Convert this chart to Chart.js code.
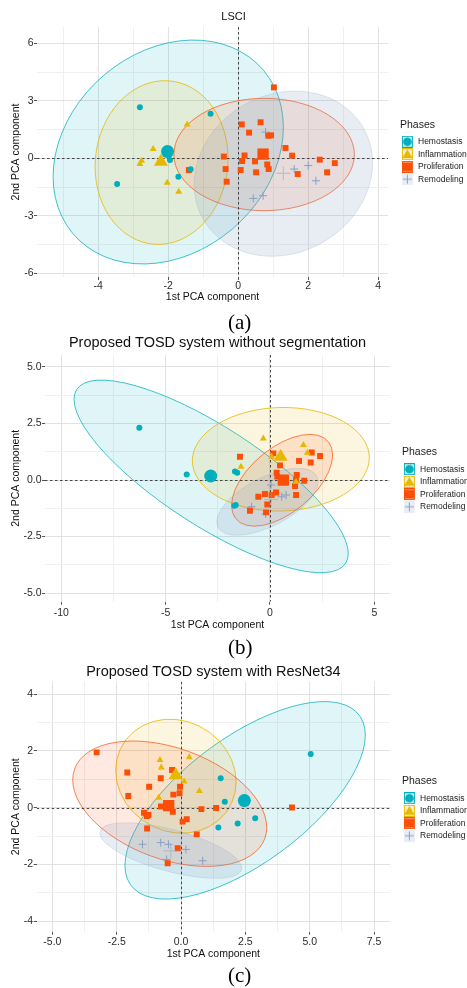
<!DOCTYPE html>
<html>
<head>
<meta charset="utf-8">
<script src="https://cdn.jsdelivr.net/npm/chart.js@4"></script>
<style>
  html, body { margin: 0; padding: 0; background: #fff; overflow: hidden; }
  body { width: 467px; height: 988px; position: relative; }
  .panel { position: absolute; left: 0; }
  .cap { position: absolute; left: 228px; font-family: "Liberation Serif", "Times New Roman", serif; font-size: 21px; line-height: 21px; color: #000; }
</style>
</head>
<body>
<div class="panel" style="top:0px"><canvas id="chartA" width="467" height="305"></canvas></div>
<div class="panel" style="top:328px"><canvas id="chartB" width="469" height="304"></canvas></div>
<div class="panel" style="top:658px"><canvas id="chartC" width="469" height="302"></canvas></div>
<div class="cap" style="top:312px">(a)</div>
<div class="cap" style="top:637px">(b)</div>
<div class="cap" style="top:965px">(c)</div>
<script>
const phases = ['Hemostasis', 'Inflammation', 'Proliferation', 'Remodeling'];

// (a) LSCI
const lsciHemostasis = [[-2.81, 2.66], [-0.79, 2.33], [-1.95, -0.09], [-1.36, -0.57], [-1.71, -0.96], [-3.46, -1.34]];
const lsciInflammation = [[-1.46, 1.77], [-2.43, 0.49], [-2.76, -0.12], [-2.81, -0.30], [-2.03, -1.27], [-1.70, -1.74]];
const lsciProliferation = [[1.02, 3.70], [0.10, 1.77], [0.64, 1.88], [0.31, 1.34], [0.86, 1.18], [0.94, 1.20], [1.35, 0.54],
  [1.54, 0.14], [-0.41, 0.09], [0.18, 0.15], [0.11, -0.14], [0.48, -0.16], [0.83, -0.32], [0.87, -0.56], [2.33, -0.07],
  [2.76, -0.25], [2.54, -0.73], [1.70, -0.82], [0.51, -0.73], [0.07, -0.61], [-0.36, -0.56], [-0.33, -1.22], [-1.41, -0.61]];
const lsciRemodeling = [[0.78, 1.37], [1.60, -0.56], [2.00, -0.38], [2.22, -1.17], [0.43, -2.09], [0.71, -1.95]];
const lsciMeans = [[-2.02, 0.35], [-2.21, -0.18], [0.71, 0.22], [1.29, -0.78]];
// ellipse = centre x, centre y, half width, half height, correlation
const lsciEllipses = [[-2.00, 0.33, 3.29, 5.84, 0.22], [-2.19, -0.22, 1.90, 4.27, 0.05], [0.74, 0.20, 2.58, 2.93, 0.0], [1.29, -0.80, 2.55, 4.31, 0.13]];
const lsciXTicks = [-4, -2, 0, 2, 4];
const lsciXLabels = ['-4', '-2', '0', '2', '4'];
const lsciXMinor = [-5, -3, -1, 1, 3];
const lsciYTicks = [-6, -3, 0, 3, 6];
const lsciYLabels = ['-6', '-3', '0', '3', '6'];
const lsciYMinor = [-4.5, -1.5, 1.5, 4.5];

// (b) without segmentation
const noSegHemostasis = [[-6.26, 2.31], [-3.99, 0.25], [-1.68, 0.38], [-1.57, 0.32], [-1.71, -1.14], [-1.64, -1.10]];
const noSegInflammation = [[-0.32, 1.84], [1.60, 1.55], [1.79, 1.21], [0.08, 1.03], [-1.39, 0.59], [1.25, -0.07]];
const noSegProliferation = [[-1.44, 1.03], [0.16, 1.18], [2.00, 1.22], [2.40, 1.06], [1.39, 0.84], [1.95, 0.78], [0.48, 0.65],
  [0.32, 0.32], [0.35, 0.15], [1.28, 0.22], [1.25, 0.00], [1.64, -0.03], [1.20, -0.27], [1.25, -0.66], [0.29, -0.55],
  [0.08, -0.66], [-0.24, -0.62], [-0.56, -0.74], [-0.13, -1.08], [-0.96, -1.36], [-0.19, -1.43]];
const noSegRemodeling = [[0.05, -0.22], [0.56, -0.74], [0.77, -0.66], [-0.88, -1.18], [-0.21, -1.50]];
const noSegMeans = [[-2.84, 0.18], [0.51, 1.03], [0.64, 0.00], [0.06, -0.86]];
const noSegEllipses = [[-2.82, 0.16, 6.57, 4.26, -0.80], [0.52, 0.92, 4.24, 2.29, 0.03], [0.58, -0.01, 2.42, 2.03, 0.55], [-0.12, -0.96, 2.43, 1.48, 0.60]];
const noSegXTicks = [-10, -5, 0, 5];
const noSegXLabels = ['-10', '-5', '0', '5'];
const noSegXMinor = [-7.5, -2.5, 2.5];
const noSegYTicks = [-5, -2.5, 0, 2.5, 5];
const noSegYLabels = ['-5.0', '-2.5', '0.0', '2.5', '5.0'];
const noSegYMinor = [-3.75, -1.25, 1.25, 3.75];

// (c) with ResNet34
const resHemostasis = [[5.04, 1.89], [1.54, 1.04], [1.70, 0.21], [2.88, -0.37], [2.20, -0.56], [1.45, -0.70]];
const resInflammation = [[-0.82, 1.68], [0.32, 1.78], [-0.77, 1.42], [0.12, 0.92], [0.71, 0.59], [-0.87, 0.35]];
const resProliferation = [[-3.28, 1.95], [-2.09, 1.24], [-0.35, 1.33], [-0.79, 1.04], [-1.24, 0.74], [-2.05, 0.41], [-0.04, 0.74],
  [-0.06, 0.51], [-0.30, 0.46], [-0.78, 0.04], [0.79, -0.05], [1.36, -0.01], [4.31, 0.01], [-0.32, -0.14], [-1.44, -0.18],
  [-1.27, -0.26], [-1.33, -0.29], [0.06, -0.49], [0.22, -0.41], [-1.32, -0.73], [0.61, -0.94], [-0.13, -1.43], [-0.52, -1.96]];
const resRemodeling = [[-1.50, -1.29], [-0.79, -1.23], [-0.49, -1.29], [0.19, -1.47], [0.84, -1.87], [-0.56, -1.82]];
const resMeans = [[2.46, 0.25], [-0.21, 1.15], [-0.48, 0.07], [-0.40, -1.52]];
const resEllipses = [[2.49, 0.26, 4.67, 3.48, 0.66], [-0.20, 1.11, 2.34, 2.01, -0.10], [-0.44, 0.14, 3.77, 2.21, -0.38], [-0.40, -1.51, 2.76, 0.98, -0.63]];
const resXTicks = [-5, -2.5, 0, 2.5, 5, 7.5];
const resXLabels = ['-5.0', '-2.5', '0.0', '2.5', '5.0', '7.5'];
const resXMinor = [-3.75, -1.25, 1.25, 3.75, 6.25];
const resYTicks = [-4, -2, 0, 2, 4];
const resYLabels = ['-4', '-2', '0', '2', '4'];
const resYMinor = [-3, -1, 1, 3];

const family = 'Arial, "Liberation Sans", Helvetica, sans-serif';
Chart.defaults.font.family = family;

const colors = ['#00AFBB', '#E7B800', '#FC4E07', '#86A0C4'];
const fills = ['rgba(0,175,187,0.12)', 'rgba(231,184,0,0.12)', 'rgba(252,78,7,0.12)', 'rgba(140,162,196,0.2)'];
const lines = ['rgba(0,175,187,0.75)', 'rgba(231,184,0,0.8)', 'rgba(252,78,7,0.7)', 'rgba(140,162,196,0.25)'];
const shapes = ['circle', 'triangle', 'rect', 'cross'];
const dotSize = [3, 4, 4.2, 4];
const meanSize = [6.5, 8, 8, 7];

// legend keys: tinted box + symbol
function makeKey(i) {
  const c = document.createElement('canvas');
  c.width = 14; c.height = 12;
  const g = c.getContext('2d');
  g.fillStyle = fills[i].replace(/0\.\d+\)$/, '0.18)');
  g.fillRect(0, 0, 11, 12);
  if (i < 3) { g.strokeStyle = colors[i]; g.lineWidth = 1; g.strokeRect(0.5, 0.5, 10, 11); }
  g.fillStyle = colors[i]; g.strokeStyle = colors[i];
  const cx = 5.5, cy = 6;
  g.beginPath();
  if (i === 0) { g.arc(cx, cy, 4.3, 0, Math.PI * 2); g.fill(); }
  else if (i === 1) { g.moveTo(cx, cy - 5); g.lineTo(cx + 5.2, cy + 4); g.lineTo(cx - 5.2, cy + 4); g.closePath(); g.fill(); }
  else if (i === 2) { g.fillRect(cx - 4.5, cy - 4.5, 9, 9); }
  else { g.lineWidth = 1; g.moveTo(cx - 4.5, cy); g.lineTo(cx + 4.5, cy); g.moveTo(cx, cy - 4.5); g.lineTo(cx, cy + 4.5); g.stroke(); }
  return c;
}
const keys = phases.map((p, i) => makeKey(i));

// confidence ellipses + dashed zero lines, placed through the scales
const ellipsePlugin = {
  id: 'ellipses',
  beforeDatasetsDraw(chart, args, opts) {
    const {ctx, chartArea: a, scales: {x, y}} = chart;
    const kx = x.getPixelForValue(1) - x.getPixelForValue(0);
    const ky = y.getPixelForValue(0) - y.getPixelForValue(1);
    ctx.save();
    ctx.beginPath();
    ctx.rect(a.left, a.top, a.width, a.height);
    ctx.clip();
    opts.list.forEach((e, i) => {
      const [cx, cy, hx, hy, r] = e;
      ctx.save();
      ctx.translate(x.getPixelForValue(cx), y.getPixelForValue(cy));
      ctx.transform(kx * hx, -ky * r * hy, 0, -ky * hy * Math.sqrt(1 - r * r), 0, 0);
      ctx.beginPath();
      ctx.arc(0, 0, 1, 0, Math.PI * 2);
      ctx.restore();
      ctx.fillStyle = fills[i];
      ctx.fill();
      ctx.strokeStyle = lines[i];
      ctx.lineWidth = 1;
      ctx.stroke();
    });
    ctx.setLineDash([2.5, 2.5]);
    ctx.strokeStyle = '#333';
    ctx.lineWidth = 0.9;
    const x0 = Math.round(x.getPixelForValue(0)) + 0.5;
    const y0 = Math.round(y.getPixelForValue(0)) + 0.5;
    ctx.beginPath();
    ctx.moveTo(x0, a.top); ctx.lineTo(x0, a.bottom);
    ctx.moveTo(a.left, y0); ctx.lineTo(a.right, y0);
    ctx.stroke();
    ctx.restore();
  }
};

function axis(min, max, major, labels, minor, o) {
  const all = major.concat(minor).sort((p, q) => p - q);
  return {
    type: 'linear', min: min, max: max, position: o.pos,
    afterBuildTicks: s => { s.ticks = all.map(v => ({value: v})); },
    afterFit: s => { if (o.pos === 'left') s.width = o.size; else s.height = o.size; },
    ticks: {
      autoSkip: false, maxRotation: 0, padding: o.pad, color: '#2b2b2b',
      font: {size: 10.5},
      callback: v => { const k = major.indexOf(v); return k < 0 ? '' : labels[k]; }
    },
    grid: {
      color: c => major.includes(c.tick.value) ? '#e2e2e2' : '#f0f0f0',
      tickLength: 3,
      tickColor: c => major.includes(c.tick.value) ? '#555' : 'rgba(0,0,0,0)'
    },
    border: {display: false},
    title: {display: true, text: o.title, color: '#111', font: {size: 10.5}, padding: o.titlePad}
  };
}

function buildChart(id, p) {
  const toPts = arr => arr.map(([x, y]) => ({x: x, y: y}));
  const datasets = [];
  p.means.forEach((m, i) => datasets.push({
    label: phases[i] + ' mean', data: toPts([m]), pointStyle: shapes[i], pointRadius: meanSize[i],
    backgroundColor: colors[i], borderColor: i === 3 ? 'rgba(134,160,196,0.45)' : colors[i], borderWidth: i === 3 ? 1.2 : 0
  }));
  p.groups.forEach((g, i) => datasets.push({
    label: phases[i], data: toPts(g), pointStyle: shapes[i], pointRadius: dotSize[i],
    backgroundColor: colors[i], borderColor: colors[i], borderWidth: i === 3 ? 1 : 0
  }));
  return new Chart(document.getElementById(id), {
    type: 'scatter',
    data: {datasets: datasets},
    plugins: [ellipsePlugin],
    options: {
      responsive: false,
      animation: false,
      layout: {padding: 0},
      plugins: {
        title: {
          display: true, text: p.title, fullSize: p.titleFull, color: '#111',
          font: {size: p.titleSize, weight: 'normal'}, padding: p.titlePad
        },
        legend: {
          position: 'right', align: 'center', maxWidth: 67,
          labels: {
            usePointStyle: true, pointStyleWidth: 9.75, padding: 4, color: '#1a1a1a', font: {size: 8.5},
            generateLabels: () => phases.map((ph, i) => ({
              text: ph, pointStyle: keys[i], fillStyle: 'rgba(0,0,0,0)', strokeStyle: 'rgba(0,0,0,0)',
              lineWidth: 0, hidden: false, datasetIndex: p.means.length + i
            }))
          },
          title: {display: true, text: 'Phases', position: 'start', color: '#1a1a1a', font: {size: 10.5}, padding: {top: 2, bottom: 1.3}}
        },
        tooltip: {enabled: false},
        ellipses: {list: p.ellipses}
      },
      scales: {
        x: axis(p.xRange[0], p.xRange[1], p.xTicks, p.xLabels, p.xMinor,
          {pos: 'bottom', size: p.xSize, pad: p.xPad, title: '1st PCA component', titlePad: {top: 0, bottom: p.xTitleBottom}}),
        y: axis(p.yRange[0], p.yRange[1], p.yTicks, p.yLabels, p.yMinor,
          {pos: 'left', size: p.ySize, pad: 0.5, title: '2nd PCA component', titlePad: {top: 9.7, bottom: 0}}),
        gap: {
          type: 'linear', axis: 'y', position: 'right', display: true,
          grid: {display: false, drawTicks: false}, ticks: {display: false}, border: {display: false},
          afterFit: s => { s.width = 12; }
        }
      }
    }
  });
}

buildChart('chartA', {
  title: 'LSCI', titleSize: 11, titleFull: true, titlePad: {top: 10.1, bottom: 3.7},
  groups: [lsciHemostasis, lsciInflammation, lsciProliferation, lsciRemodeling],
  means: lsciMeans, ellipses: lsciEllipses,
  xRange: [-5.75, 4.28], xTicks: lsciXTicks, xLabels: lsciXLabels, xMinor: lsciXMinor,
  yRange: [-6.19, 6.85], yTicks: lsciYTicks, yLabels: lsciYLabels, yMinor: lsciYMinor,
  xSize: 28, xPad: 0, xTitleBottom: 2, ySize: 37
});

buildChart('chartB', {
  title: 'Proposed TOSD system without segmentation', titleSize: 14.5, titleFull: false, titlePad: {top: 6.6, bottom: 3.0},
  groups: [noSegHemostasis, noSegInflammation, noSegProliferation, noSegRemodeling],
  means: noSegMeans, ellipses: noSegEllipses,
  xRange: [-10.78, 5.75], xTicks: noSegXTicks, xLabels: noSegXLabels, xMinor: noSegXMinor,
  yRange: [-5.38, 5.53], yTicks: noSegYTicks, yLabels: noSegYLabels, yMinor: noSegYMinor,
  xSize: 30.3, xPad: 1.7, xTitleBottom: 0.7, ySize: 45
});

buildChart('chartC', {
  title: 'Proposed TOSD system with ResNet34', titleSize: 14.5, titleFull: false, titlePad: {top: 5.6, bottom: 0.7},
  groups: [resHemostasis, resInflammation, resProliferation, resRemodeling],
  means: resMeans, ellipses: resEllipses,
  xRange: [-5.61, 8.12], xTicks: resXTicks, xLabels: resXLabels, xMinor: resXMinor,
  yRange: [-4.37, 4.44], yTicks: resYTicks, yLabels: resYLabels, yMinor: resYMinor,
  xSize: 28.3, xPad: 0.7, xTitleBottom: 0, ySize: 36.7
});
</script>
</body>
</html>
